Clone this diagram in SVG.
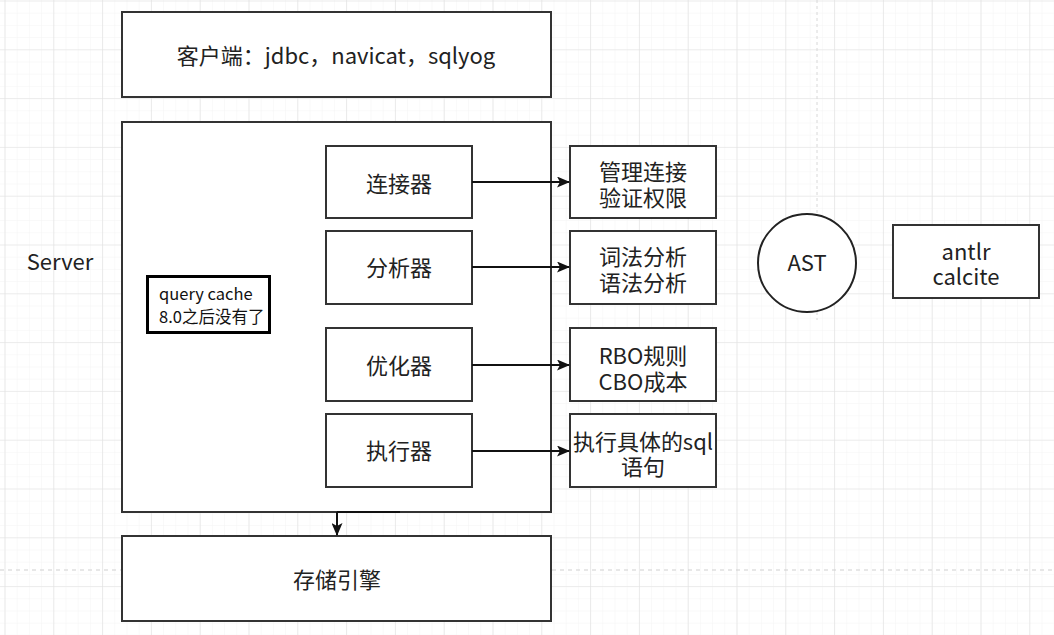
<svg xmlns="http://www.w3.org/2000/svg" width="1054" height="635" viewBox="0 0 1054 635">
<defs>
<pattern id="minor" x="4.5" y="0.5" width="12.2" height="12.2" patternUnits="userSpaceOnUse">
<path d="M0 0H12.2M0 0V12.2" fill="none" stroke="#f3f3f3" stroke-width="1"/>
</pattern>
<pattern id="major" x="4.5" y="0.5" width="48.8" height="48.8" patternUnits="userSpaceOnUse">
<path d="M0 0H48.8M0 0V48.8" fill="none" stroke="#e0e0e0" stroke-width="1.2"/>
</pattern>
<marker id="arr" viewBox="0 0 13 11" refX="12" refY="5.5" markerWidth="13" markerHeight="11" markerUnits="userSpaceOnUse" orient="auto">
<path d="M0 0L13 5.5L0 11L3 5.5Z" fill="#111"/>
</marker>
</defs>
<style>
.box{fill:#fff;stroke:#333;stroke-width:2}
.t{font-family:"Noto Sans CJK SC","Microsoft YaHei",sans-serif;fill:#222;text-anchor:middle;font-size:22px}
.s{font-family:"Noto Sans CJK SC","Microsoft YaHei",sans-serif;fill:#111;font-size:16.5px}
.c{stroke:#111;stroke-width:2;fill:none}
</style>
<rect width="1054" height="635" fill="#fff"/>
<rect width="1054" height="635" fill="url(#minor)"/>
<rect width="1054" height="635" fill="url(#major)"/>
<line x1="0" y1="570" x2="1054" y2="570" stroke="#cfcfcf" stroke-width="1.2" stroke-dasharray="4 4"/>
<line x1="817" y1="0" x2="817" y2="320" stroke="#d8d8d8" stroke-width="1" stroke-dasharray="3 3"/>

<g id="server-label"><text class="t" x="60" y="270">Server</text></g>
<g id="client"><rect class="box" x="122" y="12" width="429" height="85"/><text class="t" x="336" y="64">客户端：jdbc，navicat，sqlyog</text></g>
<g id="server"><rect class="box" x="122" y="122" width="429" height="390"/></g>
<g id="querycache"><rect x="147.5" y="276.5" width="122" height="56" fill="#fff" stroke="#000" stroke-width="3"/><text class="s" x="159" y="300">query cache</text><text class="s" x="159" y="323">8.0之后没有了</text></g>
<g id="connector"><rect class="box" x="326" y="146" width="146" height="72"/><text class="t" x="399" y="192">连接器</text></g>
<g id="analyzer"><rect class="box" x="326" y="231" width="146" height="73"/><text class="t" x="399" y="276">分析器</text></g>
<g id="optimizer"><rect class="box" x="326" y="328" width="146" height="73"/><text class="t" x="399" y="374">优化器</text></g>
<g id="executor"><rect class="box" x="326" y="414" width="146" height="73"/><text class="t" x="399" y="459">执行器</text></g>
<g id="conn-desc"><rect class="box" x="570" y="146" width="146" height="72"/><text class="t" x="643" y="180">管理连接</text><text class="t" x="643" y="206">验证权限</text></g>
<g id="ana-desc"><rect class="box" x="570" y="231" width="146" height="73"/><text class="t" x="643" y="265">词法分析</text><text class="t" x="643" y="291">语法分析</text></g>
<g id="opt-desc"><rect class="box" x="570" y="328" width="146" height="73"/><text class="t" x="643" y="364">RBO规则</text><text class="t" x="643" y="390">CBO成本</text></g>
<g id="exe-desc"><rect class="box" x="570" y="414" width="146" height="73"/><text class="t" x="643" y="450" textLength="140" lengthAdjust="spacingAndGlyphs">执行具体的sql</text><text class="t" x="643" y="475">语句</text></g>
<g id="ast"><circle cx="807" cy="263" r="49" fill="#fff" stroke="#222" stroke-width="2"/><text class="t" x="807" y="271">AST</text></g>
<g id="antlr"><rect class="box" x="893" y="225" width="146" height="73"/><text class="t" x="966" y="260">antlr</text><text class="t" x="966" y="285">calcite</text></g>
<g id="storage"><rect class="box" x="122" y="536" width="429" height="85"/><text class="t" x="337" y="588">存储引擎</text></g>
<g id="connectors">
<line class="c" x1="472" y1="182" x2="569" y2="182" marker-end="url(#arr)"/>
<line class="c" x1="472" y1="267" x2="569" y2="267" marker-end="url(#arr)"/>
<line class="c" x1="472" y1="365" x2="569" y2="365" marker-end="url(#arr)"/>
<line class="c" x1="472" y1="451" x2="569" y2="451" marker-end="url(#arr)"/>
<line class="c" x1="337" y1="512" x2="400" y2="512"/>
<line class="c" x1="337" y1="512" x2="337" y2="535" marker-end="url(#arr)"/>
</g>
</svg>
